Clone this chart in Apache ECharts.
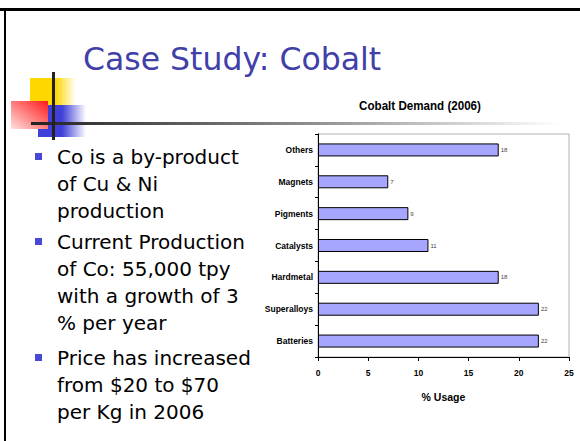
<!DOCTYPE html>
<html>
<head>
<meta charset="utf-8">
<script src="https://cdn.jsdelivr.net/npm/echarts@6/dist/echarts.min.js"></script>
<style>
  html, body { margin: 0; padding: 0; background: #fff; }
  #main { width: 580px; height: 441px; }
</style>
</head>
<body>
<div id="main"></div>
<script>
// chart data
const categories = ['Batteries', 'Superalloys', 'Hardmetal', 'Catalysts', 'Pigments', 'Magnets', 'Others'];
const usage = [22, 22, 18, 11, 9, 7, 18];
const xTicks = [0, 5, 10, 15, 20, 25];

// slide text
const slideTitle = 'Case Study: Cobalt';
const bullets = [
    ['Co is a by-product', 'of Cu & Ni', 'production'],
    ['Current Production', 'of Co: 55,000 tpy', 'with a growth of 3', '% per year'],
    ['Price has increased', 'from $20 to $70', 'per Kg in 2006']
];

const narrow = '"Liberation Sans Narrow", "Arial Narrow", "Liberation Sans", sans-serif';
const slideFont = '"DejaVu Sans", Tahoma, sans-serif';

const chart = echarts.init(document.getElementById('main'), null, { renderer: 'svg' });

// slide decorations + bullet text
const elements = [
    // slide frame
    { type: 'rect', shape: { x: 0, y: 8, width: 580, height: 3 }, style: { fill: '#000' } },
    { type: 'rect', shape: { x: 4, y: 8, width: 2, height: 433 }, style: { fill: '#000' } },
    // coloured squares
    { type: 'rect', shape: { x: 30, y: 78, width: 46, height: 44 },
      style: { fill: new echarts.graphic.LinearGradient(0, 0, 1, 0, [
          { offset: 0, color: '#ffd700' }, { offset: 0.55, color: '#ffd700' }, { offset: 1, color: '#ffffff' }]) } },
    { type: 'rect', shape: { x: 38, y: 105, width: 48, height: 32 },
      style: { fill: new echarts.graphic.LinearGradient(0, 0, 1, 0, [
          { offset: 0, color: '#4040d8' }, { offset: 0.5, color: '#4040d8' }, { offset: 1, color: '#ffffff' }]) } },
    { type: 'rect', shape: { x: 11, y: 101, width: 37, height: 28 },
      style: { fill: new echarts.graphic.LinearGradient(1, 0, 0, 1, [
          { offset: 0, color: '#ff1a1a' }, { offset: 1, color: '#ffe0e0' }]) } },
    // cross lines
    { type: 'rect', shape: { x: 31, y: 122, width: 530, height: 3 },
      style: { fill: new echarts.graphic.LinearGradient(0, 0, 1, 0, [
          { offset: 0, color: '#222222' }, { offset: 0.5, color: '#888888' }, { offset: 1, color: '#ffffff' }]) } },
    { type: 'rect', shape: { x: 52, y: 72, width: 3, height: 68 }, style: { fill: '#222' } },
    // title
    { type: 'text', x: 83, y: 75,
      style: { text: slideTitle, fill: '#4040a8', font: '31.5px ' + slideFont, textVerticalAlign: 'bottom' } },
    // chart title (squeezed to look like a narrow face)
    { type: 'text', x: 420, y: 106, scaleX: 0.86, originX: 0, originY: 0,
      style: { text: 'Cobalt Demand (2006)', fill: '#000', font: 'bold 13.5px ' + narrow,
               textAlign: 'center', textVerticalAlign: 'middle' } }
];

const lineCenter = [157, 242, 358];
bullets.forEach((lines, i) => {
    elements.push({ type: 'rect', shape: { x: 35, y: lineCenter[i] - 4, width: 7, height: 7 },
                    style: { fill: '#4848d8' } });
    lines.forEach((line, j) => {
        elements.push({ type: 'text', x: 57, y: lineCenter[i] + j * 27,
            style: { text: line, fill: '#000', font: '20px ' + slideFont, textVerticalAlign: 'middle' } });
    });
});

const option = {
    animation: false,
    grid: {
        left: 318, right: 11, top: 134, bottom: 84,
        show: true, borderColor: '#b0b0b0', borderWidth: 1, backgroundColor: 'transparent'
    },
    xAxis: {
        type: 'value',
        min: xTicks[0], max: xTicks[xTicks.length - 1], interval: 5,
        name: '% Usage', nameLocation: 'middle', nameGap: 34,
        nameTextStyle: { fontFamily: narrow, fontWeight: 'bold', fontSize: 10.5, color: '#000' },
        axisLine: { show: true, lineStyle: { color: '#000', width: 1 } },
        axisTick: { show: true, length: 4, lineStyle: { color: '#000' } },
        axisLabel: { fontFamily: narrow, fontWeight: 'bold', fontSize: 8.5, color: '#000', margin: 11 },
        splitLine: { show: false }
    },
    yAxis: {
        type: 'category',
        data: categories,
        axisLine: { show: true, lineStyle: { color: '#000', width: 1 } },
        axisTick: { show: true, length: 3, lineStyle: { color: '#000' } },
        axisLabel: { fontFamily: narrow, fontWeight: 'bold', fontSize: 8.5, color: '#000', margin: 5 }
    },
    series: [{
        type: 'bar',
        data: usage,
        barWidth: 13,
        itemStyle: { color: '#a6a6ff', borderColor: '#000', borderWidth: 1 },
        label: { show: true, position: 'right', distance: 2, fontSize: 6, color: '#444', fontFamily: narrow }
    }],
    graphic: { elements: elements }
};

chart.setOption(option);
</script>
</body>
</html>
